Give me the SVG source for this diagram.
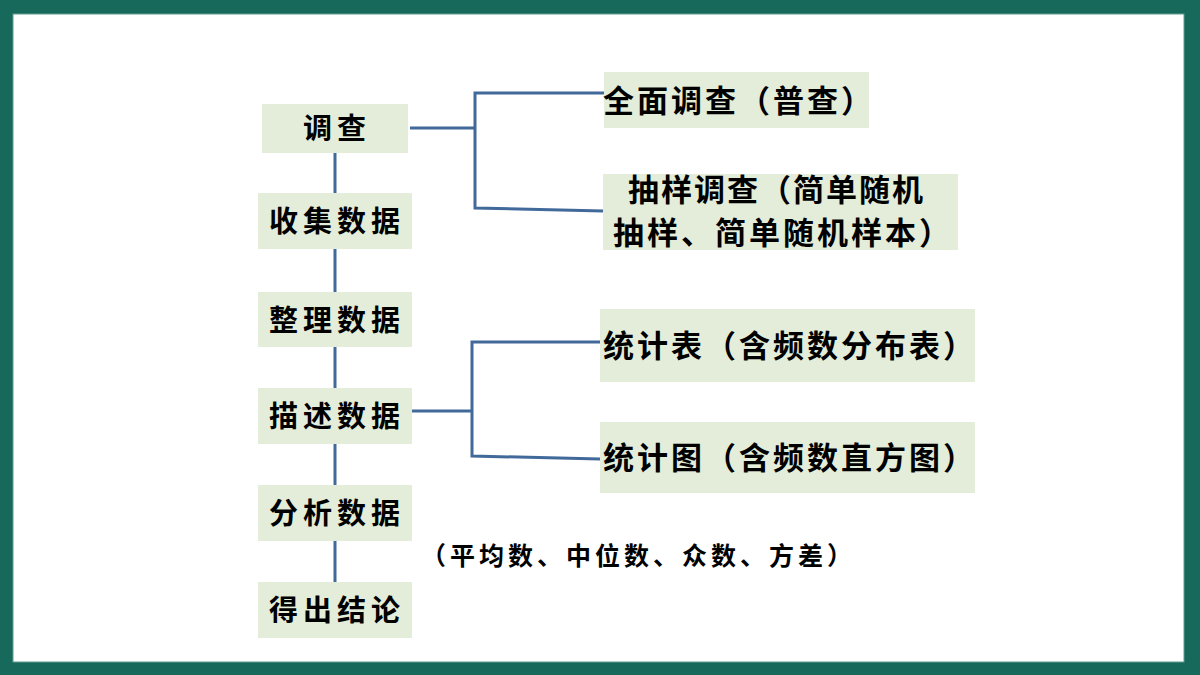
<svg xmlns="http://www.w3.org/2000/svg" width="1200" height="675" viewBox="0 0 1200 675">
<style>
.box{fill:#e3edd9}
.lt{font-family:"Noto Sans CJK SC","Noto Sans",sans-serif;font-size:29px;font-weight:700;letter-spacing:5px;fill:#000}
.rt{font-family:"Noto Sans CJK SC","Noto Sans",sans-serif;font-size:31px;font-weight:700;letter-spacing:3px;fill:#000}
.nt{font-family:"Noto Sans CJK SC","Noto Sans",sans-serif;font-size:25px;font-weight:700;letter-spacing:4px;fill:#000}
.ln{stroke:#41699a;stroke-width:3;fill:none}
</style>
<rect x="0" y="0" width="1200" height="675" fill="#17695b"/>
<rect x="13" y="14" width="1171" height="648" fill="#ffffff" stroke="#5f9f90" stroke-width="1"/>
<g id="connectors">
<line class="ln" x1="335" y1="153" x2="335" y2="582"/>
<polyline class="ln" points="410,128 475,128"/>
<polyline class="ln" points="604,93 475,93 475,208 603,211"/>
<polyline class="ln" points="412,411 472,411"/>
<polyline class="ln" points="600,342 472,342 472,456 600,459"/>
</g>
<g id="n-diaocha"><rect class="box" x="262" y="104" width="146" height="49"/><text class="lt" x="303" y="126" dominant-baseline="central">调查</text></g>
<g id="n-shouji"><rect class="box" x="258" y="193" width="154" height="56"/><text class="lt" x="269" y="219" dominant-baseline="central">收集数据</text></g>
<g id="n-zhengli"><rect class="box" x="258" y="292" width="154" height="55"/><text class="lt" x="269" y="318" dominant-baseline="central">整理数据</text></g>
<g id="n-miaoshu"><rect class="box" x="258" y="388" width="154" height="56"/><text class="lt" x="269" y="414" dominant-baseline="central">描述数据</text></g>
<g id="n-fenxi"><rect class="box" x="258" y="485" width="154" height="56"/><text class="lt" x="269" y="511" dominant-baseline="central">分析数据</text></g>
<g id="n-dechu"><rect class="box" x="258" y="582" width="154" height="56"/><text class="lt" x="269" y="608" dominant-baseline="central">得出结论</text></g>
<g id="n-quanmian"><rect class="box" x="604" y="72" width="265" height="56"/><text class="rt" x="603" y="98" dominant-baseline="central">全面调查（普查）</text></g>
<g id="n-chouyang"><rect class="box" x="603" y="174" width="355" height="76"/><text class="rt" x="628" y="187" dominant-baseline="central" style="letter-spacing:2px">抽样调查（简单随机</text><text class="rt" x="613" y="230" dominant-baseline="central">抽样、简单随机样本）</text></g>
<g id="n-tongjibiao"><rect class="box" x="600" y="309" width="375" height="73"/><text class="rt" x="603" y="343" dominant-baseline="central">统计表（含频数分布表）</text></g>
<g id="n-tongjitu"><rect class="box" x="600" y="422" width="375" height="71"/><text class="rt" x="603" y="455" dominant-baseline="central">统计图（含频数直方图）</text></g>
<g id="note"><text class="nt" x="421" y="554" dominant-baseline="central">（平均数、中位数、众数、方差）</text></g>
</svg>
